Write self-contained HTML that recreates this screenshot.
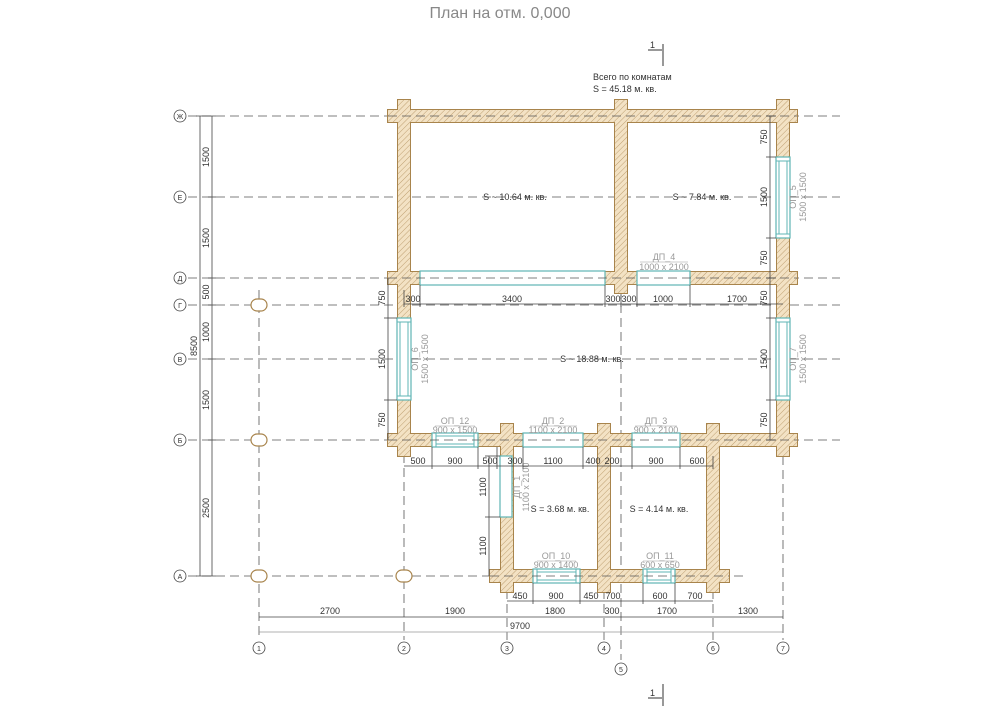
<!DOCTYPE html>
<html><head><meta charset="utf-8"><style>
html,body{margin:0;padding:0;background:#fff;}
svg{display:block;font-family:"Liberation Sans",sans-serif;}
.ax{stroke:#555;stroke-width:0.8;stroke-dasharray:9 5;fill:none}
.d{stroke:#444;stroke-width:0.8;fill:none}
.t{font-size:9px;fill:#333;}
.g{font-size:9px;fill:#999;}
.ws{fill:none;stroke:#a8844c;stroke-width:2}
.wf{fill:url(#h)}
.op{fill:#fff;stroke:#5fb5b5;stroke-width:1.2}
</style></head><body>
<svg width="1000" height="707" viewBox="0 0 1000 707" xmlns="http://www.w3.org/2000/svg">
<defs>
<pattern id="h" width="4" height="4" patternUnits="userSpaceOnUse" patternTransform="rotate(45)">
<rect width="4" height="4" fill="#f3e2c4"/><line x1="0" y1="0" x2="0" y2="4" stroke="#b89868" stroke-width="0.9"/>
</pattern>
</defs>
<text x="500" y="18" text-anchor="middle" font-size="16" fill="#888">План на отм. 0,000</text>
<line x1="663" y1="44" x2="663" y2="66" stroke="#333"/><line x1="648" y1="50" x2="662" y2="50" stroke="#333"/><text x="650" y="48" class="t" font-size="8">1</text>
<line x1="663" y1="684" x2="663" y2="706" stroke="#333"/><line x1="648" y1="698" x2="662" y2="698" stroke="#333"/><text x="650" y="696" class="t" font-size="8">1</text>
<text x="593" y="80" class="t" font-size="8">Всего по комнатам</text>
<text x="593" y="92" class="t" font-size="8">S   =  45.18 м. кв.</text>
<g class="ax">
<line x1="188" y1="116" x2="840" y2="116"/><line x1="188" y1="197" x2="840" y2="197"/>
<line x1="188" y1="278" x2="840" y2="278"/><line x1="188" y1="305" x2="840" y2="305"/>
<line x1="188" y1="359" x2="840" y2="359"/><line x1="188" y1="440" x2="840" y2="440"/>
<line x1="188" y1="576" x2="745" y2="576"/>
<line x1="259" y1="290" x2="259" y2="640"/><line x1="404" y1="440" x2="404" y2="640"/>
<line x1="507" y1="590" x2="507" y2="640"/><line x1="604" y1="590" x2="604" y2="640"/>
<line x1="621" y1="290" x2="621" y2="660"/><line x1="713" y1="590" x2="713" y2="640"/>
<line x1="783" y1="456" x2="783" y2="640"/>
</g>
<g fill="#fff" stroke="#444" stroke-width="0.8">
<circle cx="180" cy="116" r="6"/><circle cx="180" cy="197" r="6"/><circle cx="180" cy="278" r="6"/><circle cx="180" cy="305" r="6"/><circle cx="180" cy="359" r="6"/><circle cx="180" cy="440" r="6"/><circle cx="180" cy="576" r="6"/>
<circle cx="259" cy="648" r="6"/><circle cx="404" cy="648" r="6"/><circle cx="507" cy="648" r="6"/><circle cx="604" cy="648" r="6"/><circle cx="621" cy="669" r="6"/><circle cx="713" cy="648" r="6"/><circle cx="783" cy="648" r="6"/>
</g>
<g font-size="7" fill="#333" text-anchor="middle">
<text x="180" y="119">Ж</text><text x="180" y="200">Е</text><text x="180" y="281">Д</text><text x="180" y="308">Г</text><text x="180" y="362">В</text><text x="180" y="443">Б</text><text x="180" y="579">А</text>
<text x="259" y="651">1</text><text x="404" y="651">2</text><text x="507" y="651">3</text><text x="604" y="651">4</text><text x="621" y="672">5</text><text x="713" y="651">6</text><text x="783" y="651">7</text>
</g>
<line class="d" x1="200" y1="116" x2="200" y2="576" stroke="#999"/>
<line class="d" x1="212" y1="116" x2="212" y2="576"/>
<g class="d"><line x1="196" y1="116" x2="216" y2="116"/><line x1="196" y1="576" x2="216" y2="576"/>
<line x1="208" y1="197" x2="216" y2="197"/><line x1="208" y1="278" x2="216" y2="278"/><line x1="208" y1="305" x2="216" y2="305"/><line x1="208" y1="359" x2="216" y2="359"/><line x1="208" y1="440" x2="216" y2="440"/></g>
<g class="t" text-anchor="middle">
<text transform="translate(209,157) rotate(-90)">1500</text><text transform="translate(209,238) rotate(-90)">1500</text>
<text transform="translate(209,292) rotate(-90)">500</text><text transform="translate(209,332) rotate(-90)">1000</text>
<text transform="translate(209,400) rotate(-90)">1500</text><text transform="translate(209,508) rotate(-90)">2500</text>
<text transform="translate(197,346) rotate(-90)">8500</text>
</g>
<g fill="#fff" stroke="#a8844c" stroke-width="1.2">
<rect x="251" y="299" width="16" height="12" rx="6"/><rect x="251" y="434" width="16" height="12" rx="6"/><rect x="251" y="570" width="16" height="12" rx="6"/><rect x="396" y="570" width="16" height="12" rx="6"/>
</g>
<g class="ws">
<rect x="388" y="110" width="409" height="12"/><rect x="388" y="272" width="409" height="12"/><rect x="388" y="434" width="409" height="12"/><rect x="490" y="570" width="239" height="12"/>
<rect x="398" y="100" width="12" height="356"/><rect x="615" y="100" width="12" height="193"/><rect x="777" y="100" width="12" height="356"/>
<rect x="501" y="424" width="12" height="168"/><rect x="598" y="424" width="12" height="168"/><rect x="707" y="424" width="12" height="168"/>
</g>
<g class="wf">
<rect x="388" y="110" width="409" height="12"/><rect x="388" y="272" width="409" height="12"/><rect x="388" y="434" width="409" height="12"/><rect x="490" y="570" width="239" height="12"/>
<rect x="398" y="100" width="12" height="356"/><rect x="615" y="100" width="12" height="193"/><rect x="777" y="100" width="12" height="356"/>
<rect x="501" y="424" width="12" height="168"/><rect x="598" y="424" width="12" height="168"/><rect x="707" y="424" width="12" height="168"/>
</g>
<g class="op">
<rect x="420" y="271" width="185" height="14"/><rect x="637" y="271" width="53" height="14"/>
<rect x="776" y="157" width="14" height="81"/><rect x="776" y="318" width="14" height="82"/><rect x="397" y="318" width="14" height="82"/>
<rect x="432" y="433" width="46" height="14"/><rect x="523" y="433" width="60" height="14"/><rect x="632" y="433" width="48" height="14"/>
<rect x="500" y="456" width="12" height="61"/>
<rect x="533" y="569" width="47" height="14"/><rect x="643" y="569" width="32" height="14"/>
</g>
<g stroke="#5fb5b5" stroke-width="1">
<line x1="779" y1="161" x2="779" y2="234"/><line x1="787" y1="161" x2="787" y2="234"/><line x1="776" y1="161" x2="790" y2="161"/><line x1="776" y1="234" x2="790" y2="234"/>
<line x1="779" y1="322" x2="779" y2="396"/><line x1="787" y1="322" x2="787" y2="396"/><line x1="776" y1="322" x2="790" y2="322"/><line x1="776" y1="396" x2="790" y2="396"/>
<line x1="400" y1="322" x2="400" y2="396"/><line x1="408" y1="322" x2="408" y2="396"/><line x1="397" y1="322" x2="411" y2="322"/><line x1="397" y1="396" x2="411" y2="396"/>
<line x1="436" y1="436" x2="474" y2="436"/><line x1="436" y1="444" x2="474" y2="444"/><line x1="436" y1="433" x2="436" y2="447"/><line x1="474" y1="433" x2="474" y2="447"/>
<line x1="537" y1="572" x2="576" y2="572"/><line x1="537" y1="580" x2="576" y2="580"/><line x1="537" y1="569" x2="537" y2="583"/><line x1="576" y1="569" x2="576" y2="583"/>
<line x1="647" y1="572" x2="671" y2="572"/><line x1="647" y1="580" x2="671" y2="580"/><line x1="647" y1="569" x2="647" y2="583"/><line x1="671" y1="569" x2="671" y2="583"/>
</g>
<g class="ax" stroke-width="0.7">
<line x1="388" y1="116" x2="797" y2="116"/><line x1="388" y1="278" x2="797" y2="278"/><line x1="388" y1="440" x2="797" y2="440"/><line x1="490" y1="576" x2="729" y2="576"/>
</g>
<g class="t" font-size="8.5" text-anchor="middle">
<text x="515" y="200">S  ~  10.64 м. кв.</text>
<text x="702" y="200">S  ~  7.84 м. кв.</text>
<text x="592" y="362">S  ~  18.88 м. кв.</text>
<text x="560" y="512">S   =   3.68 м. кв.</text>
<text x="659" y="512">S   =   4.14 м. кв.</text>
</g>
<g class="g" font-size="8" text-anchor="middle">
<text x="664" y="260">ДП_4</text><text x="664" y="270">1000 x 2100</text><line x1="640" y1="262" x2="688" y2="262" stroke="#999" stroke-width="0.6"/>
<text x="455" y="424">ОП_12</text><text x="455" y="433">900 x 1500</text><line x1="435" y1="426" x2="475" y2="426" stroke="#999" stroke-width="0.6"/>
<text x="553" y="424">ДП_2</text><text x="553" y="433">1100 x 2100</text><line x1="530" y1="426" x2="577" y2="426" stroke="#999" stroke-width="0.6"/>
<text x="656" y="424">ДП_3</text><text x="656" y="433">900 x 2100</text><line x1="635" y1="426" x2="677" y2="426" stroke="#999" stroke-width="0.6"/>
<text x="556" y="559">ОП_10</text><text x="556" y="568">900 x 1400</text><line x1="537" y1="561" x2="576" y2="561" stroke="#999" stroke-width="0.6"/>
<text x="660" y="559">ОП_11</text><text x="660" y="568">600 x 650</text><line x1="643" y1="561" x2="677" y2="561" stroke="#999" stroke-width="0.6"/>
<text transform="translate(796,197) rotate(-90)">ОП_5</text><text transform="translate(806,197) rotate(-90)">1500 x 1500</text>
<text transform="translate(796,359) rotate(-90)">ОП_7</text><text transform="translate(806,359) rotate(-90)">1500 x 1500</text>
<text transform="translate(418,359) rotate(-90)">ОП_6</text><text transform="translate(428,359) rotate(-90)">1500 x 1500</text>
<text transform="translate(520,487) rotate(-90)">ДП_1</text><text transform="translate(529,487) rotate(-90)">1100 x 2100</text>
</g>
<g class="d">
<line x1="404" y1="304" x2="783" y2="304"/>
<line x1="404" y1="290" x2="404" y2="307"/><line x1="420" y1="285" x2="420" y2="307"/><line x1="605" y1="285" x2="605" y2="307"/><line x1="621" y1="295" x2="621" y2="307"/><line x1="637" y1="285" x2="637" y2="307"/><line x1="690" y1="285" x2="690" y2="307"/>
</g>
<g class="t" text-anchor="middle"><text x="413" y="302">300</text><text x="512" y="302">3400</text><text x="613" y="302">300</text><text x="629" y="302">300</text><text x="663" y="302">1000</text><text x="737" y="302">1700</text></g>
<g class="d"><line x1="770" y1="116" x2="770" y2="440"/>
<line x1="766" y1="116" x2="776" y2="116"/><line x1="766" y1="157" x2="776" y2="157"/><line x1="766" y1="238" x2="776" y2="238"/><line x1="766" y1="278" x2="776" y2="278"/><line x1="766" y1="318" x2="776" y2="318"/><line x1="766" y1="400" x2="776" y2="400"/><line x1="766" y1="440" x2="776" y2="440"/>
<line x1="388" y1="278" x2="388" y2="440"/><line x1="384" y1="318" x2="397" y2="318"/><line x1="384" y1="400" x2="397" y2="400"/>
<line x1="489" y1="456" x2="489" y2="576"/><line x1="485" y1="456" x2="500" y2="456"/><line x1="485" y1="517" x2="500" y2="517"/>
</g>
<g class="t" text-anchor="middle">
<text transform="translate(767,137) rotate(-90)">750</text><text transform="translate(767,197) rotate(-90)">1500</text><text transform="translate(767,258) rotate(-90)">750</text>
<text transform="translate(767,298) rotate(-90)">750</text><text transform="translate(767,359) rotate(-90)">1500</text><text transform="translate(767,420) rotate(-90)">750</text>
<text transform="translate(385,298) rotate(-90)">750</text><text transform="translate(385,359) rotate(-90)">1500</text><text transform="translate(385,420) rotate(-90)">750</text>
<text transform="translate(486,487) rotate(-90)">1100</text><text transform="translate(486,546) rotate(-90)">1100</text>
</g>
<g class="d"><line x1="404" y1="466" x2="713" y2="466"/>
<line x1="432" y1="447" x2="432" y2="469"/><line x1="478" y1="447" x2="478" y2="469"/><line x1="497" y1="447" x2="497" y2="469"/><line x1="523" y1="447" x2="523" y2="469"/><line x1="583" y1="447" x2="583" y2="469"/><line x1="632" y1="447" x2="632" y2="469"/><line x1="680" y1="447" x2="680" y2="469"/><line x1="713" y1="456" x2="713" y2="469"/>
</g>
<g class="t" text-anchor="middle"><text x="418" y="464">500</text><text x="455" y="464">900</text><text x="490" y="464">500</text><text x="515" y="464">300</text><text x="553" y="464">1100</text><text x="593" y="464">400</text><text x="612" y="464">200</text><text x="656" y="464">900</text><text x="697" y="464">600</text></g>
<g class="d"><line x1="507" y1="601" x2="713" y2="601"/>
<line x1="533" y1="583" x2="533" y2="604"/><line x1="580" y1="583" x2="580" y2="604"/><line x1="643" y1="583" x2="643" y2="604"/><line x1="675" y1="583" x2="675" y2="604"/></g>
<g class="t" text-anchor="middle"><text x="520" y="599">450</text><text x="556" y="599">900</text><text x="591" y="599">450</text><text x="613" y="599">700</text><text x="660" y="599">600</text><text x="695" y="599">700</text></g>
<g class="d"><line x1="259" y1="617" x2="783" y2="617"/><line x1="259" y1="632" x2="783" y2="632" stroke="#999"/></g>
<g class="t" text-anchor="middle"><text x="330" y="614">2700</text><text x="455" y="614">1900</text><text x="555" y="614">1800</text><text x="612" y="614">300</text><text x="667" y="614">1700</text><text x="748" y="614">1300</text><text x="520" y="629">9700</text></g>
</svg>
</body></html>
